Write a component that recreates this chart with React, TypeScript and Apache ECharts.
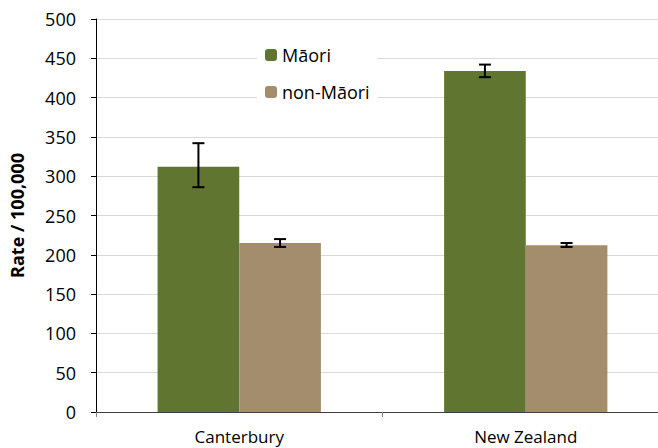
import React, { useEffect, useRef } from "react";
import * as echarts from "echarts";

const categories = ["Canterbury", "New Zealand"];
const maoriValues = [312, 434];
const nonMaoriValues = [215, 212];
const maoriLow = [286, 426];
const maoriHigh = [342, 442];
const nonMaoriLow = [210, 210];
const nonMaoriHigh = [220, 215];
const seriesNames = ["Māori", "non-Māori"];
const yTicks = [0, 50, 100, 150, 200, 250, 300, 350, 400, 450, 500];

const GAP = 0.43;

function errorSeries(name: string, low: number[], high: number[], side: number) {
  return {
    type: "custom",
    name: name + " error",
    z: 5,
    data: categories.map((_, i) => [i, low[i], high[i]]),
    encode: { x: 0, y: [1, 2] },
    renderItem: (params: any, api: any) => {
      const idx = api.value(0);
      const lo = api.coord([idx, api.value(1)]);
      const hi = api.coord([idx, api.value(2)]);
      const bandW = api.size([1, 0])[0];
      const barW = (bandW * (1 - GAP)) / 2;
      const x = lo[0] + side * barW / 2;
      const cap = 6;
      const style = { stroke: "#000", lineWidth: 2 };
      return {
        type: "group",
        children: [
          { type: "line", shape: { x1: x, y1: lo[1], x2: x, y2: hi[1] }, style },
          { type: "line", shape: { x1: x - cap, y1: lo[1], x2: x + cap, y2: lo[1] }, style },
          { type: "line", shape: { x1: x - cap, y1: hi[1], x2: x + cap, y2: hi[1] }, style },
        ],
      };
    },
  };
}

export default function App() {
  const ref = useRef<HTMLDivElement>(null);
  useEffect(() => {
    document.body.style.margin = "0";
    document.body.style.overflow = "hidden";
    document.documentElement.style.overflow = "hidden";
    const chart = echarts.init(ref.current!, null, { renderer: "svg" });
    const font = "'Open Sans', 'Noto Sans', sans-serif";
    chart.setOption({
      animation: false,
      textStyle: { fontFamily: font },
      grid: { left: 95, right: 0, top: 19, bottom: 36, containLabel: false },
      legend: {
        orient: "vertical",
        left: 257,
        top: 42,
        itemWidth: 12,
        itemHeight: 12,
        itemGap: 19,
        backgroundColor: "#fff",
        padding: [4, 8, 4, 8],
        textStyle: { fontSize: 18, lineHeight: 18, color: "#000", fontFamily: font },
        data: seriesNames,
      },
      xAxis: {
        type: "category",
        data: categories,
        axisLine: { lineStyle: { color: "#404040", width: 1 } },
        axisTick: { show: true, length: 5, lineStyle: { color: "#808080" } },
        axisLabel: { fontSize: 17, lineHeight: 17, color: "#000", margin: 16, fontFamily: font },
      },
      yAxis: {
        type: "value",
        min: yTicks[0],
        max: yTicks[yTicks.length - 1],
        interval: 50,
        name: "Rate / 100,000",
        nameLocation: "middle",
        nameGap: 70,
        nameTextStyle: { fontSize: 18, fontWeight: "bold", color: "#000", fontFamily: font },
        axisLine: { show: true, lineStyle: { color: "#000", width: 1 } },
        axisTick: { show: true, length: 5, lineStyle: { color: "#000" } },
        axisLabel: { fontSize: 18, color: "#000", margin: 20, fontFamily: font },
        splitLine: { lineStyle: { color: "#d9d9d9", width: 1 } },
      },
      series: [
        {
          type: "bar",
          name: seriesNames[0],
          data: maoriValues,
          barGap: "0%",
          barCategoryGap: GAP * 100 + "%",
          itemStyle: { color: "#5F7530" },
        },
        {
          type: "bar",
          name: seriesNames[1],
          data: nonMaoriValues,
          barGap: "0%",
          barCategoryGap: GAP * 100 + "%",
          itemStyle: { color: "#A38D6D" },
        },
        errorSeries(seriesNames[0], maoriLow, maoriHigh, -1),
        errorSeries(seriesNames[1], nonMaoriLow, nonMaoriHigh, 1),
      ],
    });
    return () => chart.dispose();
  }, []);
  return <div ref={ref} style={{ width: 669, height: 448 }} />;
}
